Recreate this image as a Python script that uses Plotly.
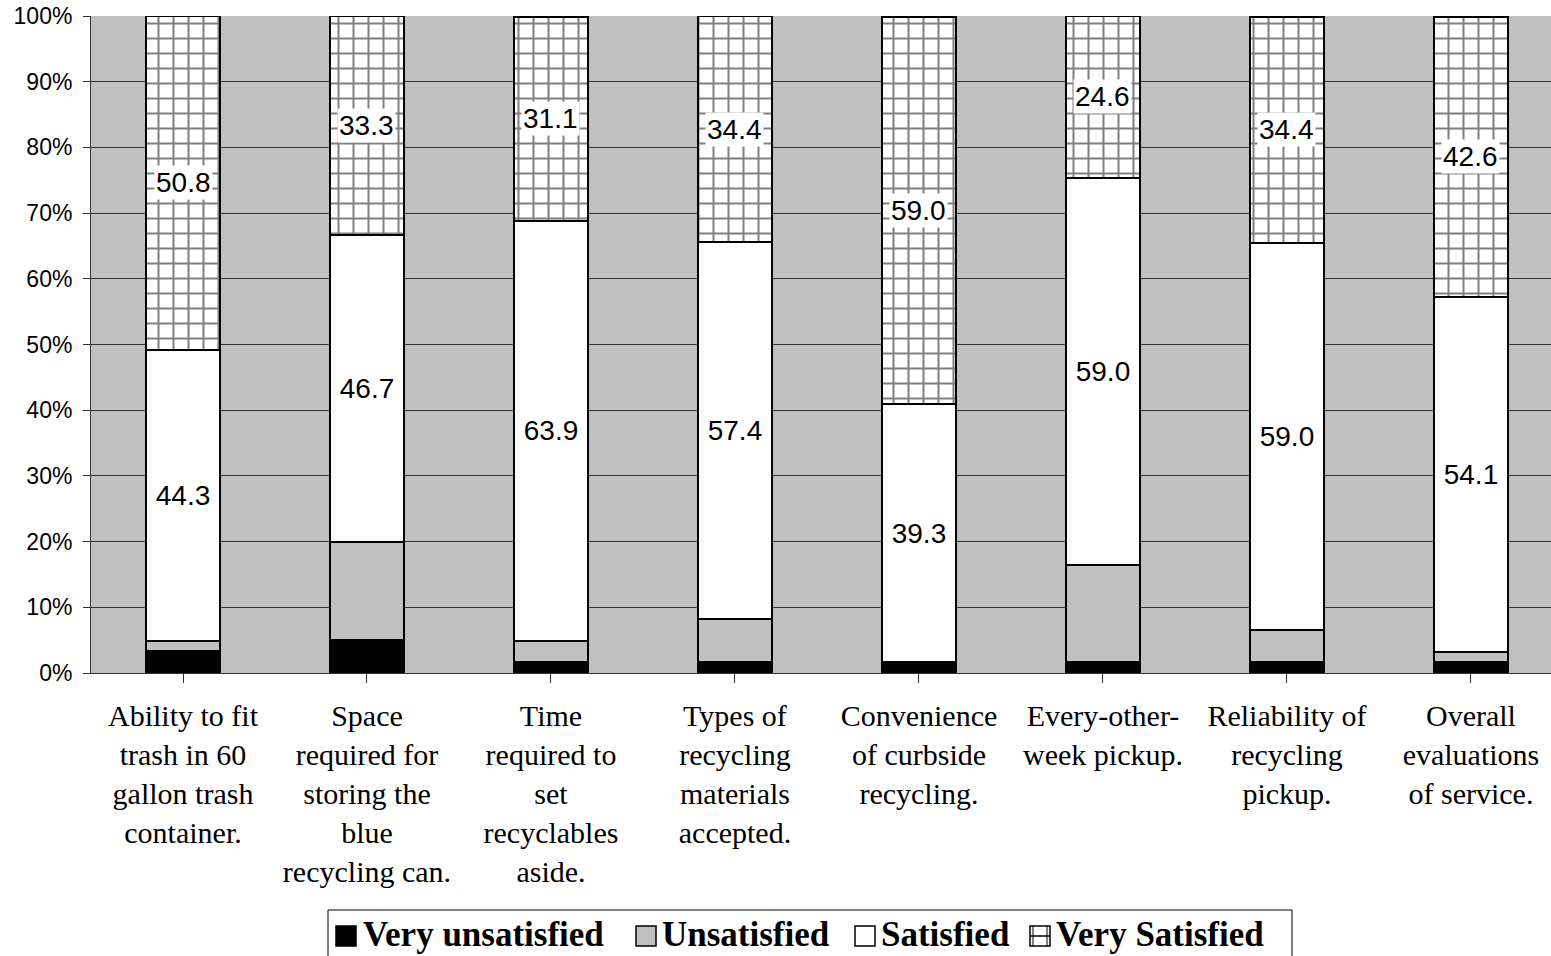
import plotly.graph_objects as go

categories = [
    "Ability to fit<br>trash in 60<br>gallon trash<br>container.",
    "Space<br>required for<br>storing the<br>blue<br>recycling can.",
    "Time<br>required to<br>set<br>recyclables<br>aside.",
    "Types of<br>recycling<br>materials<br>accepted.",
    "Convenience<br>of curbside<br>recycling.",
    "Every-other-<br>week pickup.",
    "Reliability of<br>recycling<br>pickup.",
    "Overall<br>evaluations<br>of service.",
]
very_unsatisfied = [3.3, 5.0, 1.6, 1.6, 1.6, 1.6, 1.6, 1.6]
unsatisfied = [1.6, 15.0, 3.3, 6.6, 0.0, 14.8, 4.9, 1.6]
satisfied = [44.3, 46.7, 63.9, 57.4, 39.3, 59.0, 59.0, 54.1]
very_satisfied = [50.8, 33.3, 31.1, 34.4, 59.0, 24.6, 34.4, 42.6]

series_names = ["Very unsatisfied", "Unsatisfied", "Satisfied", "Very Satisfied"]
series_colors = ["black", "#C0C0C0", "white", "white"]

y_ticks = list(range(0, 101, 10))

num_font = "Arial, Liberation Sans, sans-serif"
serif_font = "Liberation Serif, Times New Roman, serif"

# figure geometry (page body margin removed below)
W, H = 1551, 956
ML, MT, MB = 91, 16, 283
PW = W - ML
PH = H - MT - MB
PB = H - MB


def px(sx):
    return (sx - ML) / PW


def py(sy):
    return (PB - sy) / PH


xs = list(range(len(categories)))
line = dict(color="black", width=2)
bw = 0.4
pattern = dict(shape="+", fgcolor="black", bgcolor="white", size=15, solidity=0.25)

fig = go.Figure()
fig.add_trace(go.Bar(x=xs, y=very_unsatisfied, name=series_names[0], width=bw,
                     marker=dict(color=series_colors[0], line=line)))
fig.add_trace(go.Bar(x=xs, y=unsatisfied, name=series_names[1], width=bw,
                     marker=dict(color=series_colors[1], line=line)))
fig.add_trace(go.Bar(x=xs, y=satisfied, name=series_names[2], width=bw,
                     marker=dict(color=series_colors[2], line=line),
                     text=[f"{v:.1f}" for v in satisfied], textposition="inside",
                     insidetextanchor="middle", textangle=0, constraintext="none",
                     textfont=dict(family=num_font, size=28, color="black")))
fig.add_trace(go.Bar(x=xs, y=very_satisfied, name=series_names[3], width=bw,
                     marker=dict(color=series_colors[3], line=line, pattern=pattern)))

for i in xs:
    base = very_unsatisfied[i] + unsatisfied[i] + satisfied[i]
    fig.add_annotation(x=i, y=base + very_satisfied[i] / 2, text=f"{very_satisfied[i]:.1f}",
                       showarrow=False, bgcolor="white", borderpad=1,
                       font=dict(family=num_font, size=28, color="black"))

# custom legend (box, swatches, labels)
fig.add_shape(type="rect", xref="paper", yref="paper", x0=px(328), x1=px(1292),
              y0=py(910), y1=py(990), line=dict(color="black", width=1), fillcolor="white")
sym_x = [336, 636, 855, 1030]
txt_x = [361, 660, 879, 1054]
for k in range(4):
    fig.add_shape(type="rect", xref="paper", yref="paper", x0=px(sym_x[k]), x1=px(sym_x[k] + 20),
                  y0=py(926), y1=py(946), line=dict(color="black", width=1.5),
                  fillcolor=series_colors[k])
    if k == 3:
        fig.add_shape(type="line", xref="paper", yref="paper", x0=px(sym_x[k]), x1=px(sym_x[k] + 20),
                      y0=py(936), y1=py(936), line=dict(color="black", width=1.5))
        fig.add_shape(type="line", xref="paper", yref="paper", x0=px(sym_x[k] + 3), x1=px(sym_x[k] + 3),
                      y0=py(926), y1=py(946), line=dict(color="black", width=1))
        fig.add_shape(type="line", xref="paper", yref="paper", x0=px(sym_x[k] + 17), x1=px(sym_x[k] + 17),
                      y0=py(926), y1=py(946), line=dict(color="black", width=1))
    fig.add_annotation(xref="paper", yref="paper", x=px(txt_x[k]), y=py(935),
                       xanchor="left", yanchor="middle", showarrow=False,
                       text=f"<b>{series_names[k]}</b>",
                       font=dict(family=serif_font, size=35, color="black"))

fig.update_layout(
    barmode="stack",
    width=W, height=H,
    margin=dict(l=ML, r=0, t=MT, b=MB, autoexpand=False),
    paper_bgcolor="white",
    plot_bgcolor="#C0C0C0",
    showlegend=False,
    xaxis=dict(tickmode="array", tickvals=xs, ticktext=categories, automargin=False,
               range=[-0.5, 7.435], tickson="boundaries", ticks="outside", ticklen=9,
               tickcolor="#333", showgrid=False, showline=True, linecolor="#333", linewidth=1,
               tickfont=dict(family=serif_font, size=30, color="black"),
               ticklabelstandoff=7, tickangle=0),
    yaxis=dict(range=[0, 100], tickmode="array", tickvals=y_ticks, automargin=False,
               ticktext=[f"{t}%" for t in y_ticks], ticks="outside", ticklen=7, tickcolor="#333",
               showgrid=True, gridcolor="#333", gridwidth=1, showline=True,
               linecolor="#333", linewidth=1, zeroline=False,
               tickfont=dict(family=num_font, size=23, color="black"),
               ticklabelstandoff=6, ticklabeloverflow="allow"),
)

fig.write_html("out.html", config={"displayModeBar": False},
               post_script="document.body.style.margin='0px';document.body.style.overflow='hidden';")
